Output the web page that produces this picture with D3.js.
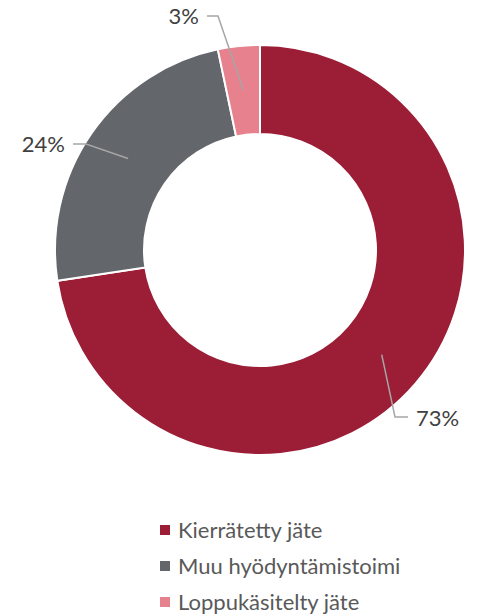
<!DOCTYPE html>
<html><head><meta charset="utf-8">
<script src="https://cdn.jsdelivr.net/npm/d3@7"></script>
<style>body{margin:0;background:#fff}svg{display:block}</style>
</head><body>
<svg id="c" width="479" height="616"></svg>
<script>
const categories = ["Kierrätetty jäte", "Muu hyödyntämistoimi", "Loppukäsitelty jäte"];
const values = [72.6, 24.1, 3.3];
const labels = ["73%", "24%", "3%"];
const colors = ["#9B1D36", "#63666A", "#E8818E"];

// layout (not data): label elbow points and text anchors
const labelLayout = [
  {elbow:[395,417], end:[408,417], text:[416,426], anchor:"start"},
  {elbow:[86,144], end:[73,144], text:[65,152], anchor:"end"},
  {elbow:[218,16], end:[207,16], text:[199,24], anchor:"end"}
];

const svg = d3.select("#c");
const cx = 260, cy = 250, rOut = 205, rIn = 116;
const g = svg.append("g").attr("transform", `translate(${cx},${cy})`);
const pie = d3.pie().sort(null).value(d => d)(values);
const arc = d3.arc().innerRadius(rIn).outerRadius(rOut);
g.selectAll("path.s").data(pie).join("path")
  .attr("class","s")
  .attr("d", arc)
  .attr("fill", (d,i) => colors[i])
  .attr("stroke", "#fff").attr("stroke-width", 2);

const mid = d3.arc().innerRadius((rIn+rOut)/2).outerRadius((rIn+rOut)/2);
pie.forEach((d,i) => {
  const c = mid.centroid(d);
  const L = labelLayout[i];
  svg.append("polyline")
    .attr("points", [[c[0]+cx, c[1]+cy], L.elbow, L.end].map(p => p.join(",")).join(" "))
    .attr("fill","none").attr("stroke","#A6A6A6").attr("stroke-width",1.5);
  svg.append("text").attr("x", L.text[0]).attr("y", L.text[1])
    .attr("text-anchor", L.anchor)
    .attr("font-family","Lato, 'Open Sans', sans-serif").attr("font-size",22)
    .attr("fill","#404040").text(labels[i]);
});

const lg = svg.append("g");
categories.forEach((c,i) => {
  const y = 530 + i*36;
  lg.append("rect").attr("x",160).attr("y",y-5).attr("width",10).attr("height",10).attr("fill",colors[i]);
  lg.append("text").attr("x",178).attr("y",y+8)
    .attr("font-family","Lato, 'Open Sans', sans-serif").attr("font-size",22)
    .attr("fill","#595959").text(c);
});
</script>
</body></html>
